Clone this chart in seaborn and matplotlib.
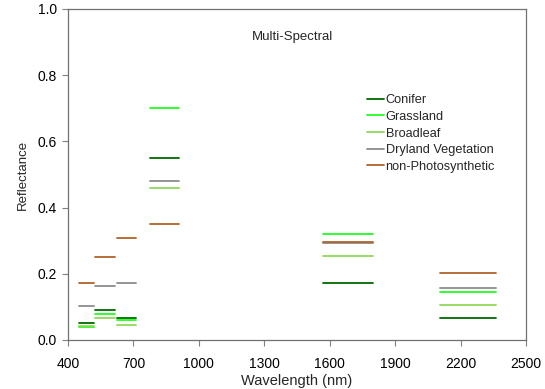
import matplotlib
matplotlib.use("Agg")
import matplotlib.pyplot as plt
import seaborn as sns
import pandas as pd

# Band edges (nm)
band_start = [450, 525, 625, 775, 1570, 2105]
band_end = [520, 615, 710, 910, 1800, 2365]

classes = ["Conifer", "Grassland", "Broadleaf", "Dryland Vegetation", "non-Photosynthetic"]
conifer = [0.052, 0.090, 0.066, 0.550, 0.173, 0.067]
grassland = [0.040, 0.078, 0.059, 0.701, 0.319, 0.144]
broadleaf = [0.041, 0.067, 0.046, 0.460, 0.253, 0.105]
dryland = [0.103, 0.164, 0.171, 0.481, 0.293, 0.157]
nonphoto = [0.173, 0.251, 0.307, 0.351, 0.295, 0.203]

colors = ["#006a00", "#22ff22", "#92d85a", "#8c8c8c", "#b0622a"]

values = [conifer, grassland, broadleaf, dryland, nonphoto]
rows = []
for cls, vals in zip(classes, values):
    for b, (s, e, v) in enumerate(zip(band_start, band_end, vals)):
        rows.append({"class": cls, "band": b, "wl": s, "refl": v})
        rows.append({"class": cls, "band": b, "wl": e, "refl": v})
df = pd.DataFrame(rows)

sns.set_theme(style="ticks")
plt.rcParams["font.family"] = ["Liberation Sans", "DejaVu Sans"]

fig = plt.figure(figsize=(5.45, 3.89), dpi=100)
ax = fig.add_axes([0.1248, 0.126, 0.8402, 0.851])

sns.lineplot(data=df, x="wl", y="refl", hue="class", units="band",
             estimator=None, sort=False, palette=dict(zip(classes, colors)),
             hue_order=classes, linewidth=1.3, ax=ax)

ax.set_xlim(400, 2500)
ax.set_ylim(0, 1.0)
ax.set_xticks([400, 700, 1000, 1300, 1600, 1900, 2200, 2500])
ax.set_yticks([0.0, 0.2, 0.4, 0.6, 0.8, 1.0])
ax.set_yticklabels(["0.0", "0.2", "0.4", "0.6", "0.8", "1.0"])
ax.tick_params(axis="both", direction="out", length=4, width=0.8,
               color="#808080", labelsize=10, labelcolor="black")
ax.tick_params(axis="x", pad=8)
ax.tick_params(axis="y", pad=4)
for sp in ax.spines.values():
    sp.set_color("#707070")
    sp.set_linewidth(0.9)
    sp.set_visible(True)
ax.set_xlabel("Wavelength (nm)", fontsize=10.5, labelpad=2.5)
ax.set_ylabel("Reflectance", fontsize=9.5, labelpad=6)
ax.text(0.491, 0.915, "Multi-Spectral", transform=ax.transAxes,
        ha="center", va="center", fontsize=9.5)

handles, labels = ax.get_legend_handles_labels()
ax.legend(handles, labels, loc="upper left", bbox_to_anchor=(0.653, 0.742),
          frameon=False, fontsize=9.2, handlelength=1.3, handletextpad=0.15,
          labelspacing=0.36, borderaxespad=0, borderpad=0)

fig.savefig("out.png", dpi=100)
